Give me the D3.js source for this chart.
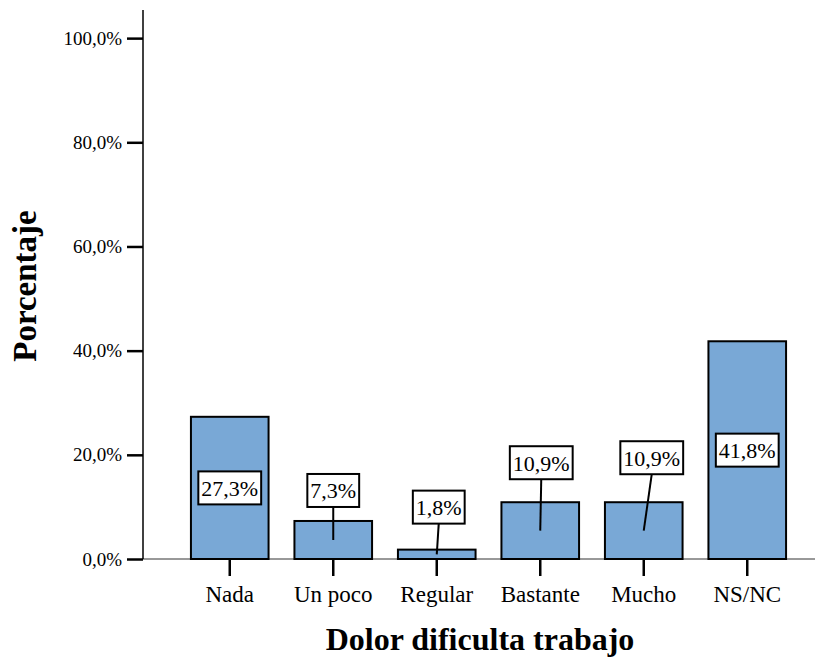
<!DOCTYPE html>
<html>
<head>
<meta charset="utf-8">
<script src="https://cdn.jsdelivr.net/npm/d3@7"></script>
<style>
  body { margin: 0; background: #fff; }
  svg text { font-family: "Liberation Serif", "Times New Roman", serif; fill: #000; }
</style>
</head>
<body>
<div id="chart"></div>
<script>
// data
const categories = ["Nada", "Un poco", "Regular", "Bastante", "Mucho", "NS/NC"];
const percents = [27.3, 7.3, 1.8, 10.9, 10.9, 41.8];
const yTicks = [0, 20, 40, 60, 80, 100];

// label nudges (px) for bars too short to hold their label
const labelNudge = [
  { dx: 0, dy: 0 }, { dx: 0, dy: -14 }, { dx: 2, dy: -26 },
  { dx: 1, dy: -23 }, { dx: 8, dy: -28 }, { dx: 0, dy: 0 }
];

const W = 821, H = 657;
const fmt = v => d3.format(".1f")(v).replace(".", ",") + "%";

const svg = d3.select("#chart").append("svg")
  .attr("width", W).attr("height", H);

const x = d3.scaleBand()
  .domain(categories)
  .range([178, 799])
  .paddingInner(0.25)
  .paddingOuter(0.125);

const y = d3.scaleLinear()
  .domain([0, 105.4])
  .range([559, 10]);

// baseline
svg.append("line")
  .attr("x1", 143).attr("x2", 815)
  .attr("y1", y(0)).attr("y2", y(0))
  .attr("stroke", "#333").attr("stroke-width", 1);

// bars
svg.append("g").selectAll("rect")
  .data(percents)
  .join("rect")
  .attr("x", (d, i) => x(categories[i]))
  .attr("y", d => y(d))
  .attr("width", x.bandwidth())
  .attr("height", d => y(0) - y(d))
  .attr("fill", "#79a8d6")
  .attr("stroke", "#000")
  .attr("stroke-width", 2);

// y axis
const yAxis = svg.append("g")
  .attr("transform", "translate(143,0)")
  .call(d3.axisLeft(y).tickValues(yTicks).tickSize(16).tickPadding(5).tickFormat(fmt));
yAxis.select(".domain").attr("d", `M0,${y(0)}V${y(105.4)}`).attr("stroke-width", 1.5);
yAxis.selectAll(".tick line").attr("stroke-width", 2.5);
yAxis.selectAll("text").attr("font-size", 19);

// x axis
const xAxis = svg.append("g")
  .attr("transform", `translate(0,${y(0)})`)
  .call(d3.axisBottom(x).tickSize(17).tickPadding(10));
xAxis.select(".domain").remove();
xAxis.selectAll(".tick line").attr("stroke-width", 2.5);
xAxis.selectAll("text").attr("font-size", 23);

// value labels
const lab = svg.append("g");
percents.forEach((v, i) => {
  const cx = x(categories[i]) + x.bandwidth() / 2;
  const mid = (y(v) + y(0)) / 2;
  const n = labelNudge[i];
  const inside = n.dy === 0;
  const g = lab.append("g");
  const t = g.append("text")
    .attr("x", cx + n.dx)
    .attr("font-size", 22)
    .attr("text-anchor", "middle")
    .text(fmt(v));
  const bb = t.node().getBBox();
  const bw = bb.width + 6, bh = 33;
  const by = inside ? mid - bh / 2 : y(v) + n.dy - bh;
  t.attr("y", by + bh / 2 + 8);
  if (!inside) {
    g.insert("line", "text")
      .attr("x1", cx + n.dx).attr("y1", by + bh)
      .attr("x2", cx).attr("y2", Math.max(mid, y(v) + 4))
      .attr("stroke", "#000").attr("stroke-width", 2);
  }
  g.insert("rect", "text")
    .attr("x", cx + n.dx - bw / 2).attr("y", by)
    .attr("width", bw).attr("height", bh)
    .attr("fill", "#fff").attr("stroke", "#000").attr("stroke-width", 2);
});

// axis titles
svg.append("text")
  .attr("x", 480).attr("y", 650)
  .attr("text-anchor", "middle")
  .attr("font-size", 32).attr("font-weight", "bold")
  .text("Dolor dificulta trabajo");

svg.append("text")
  .attr("transform", "translate(36,286) rotate(-90)")
  .attr("text-anchor", "middle")
  .attr("font-size", 33).attr("font-weight", "bold")
  .text("Porcentaje");
</script>
</body>
</html>
